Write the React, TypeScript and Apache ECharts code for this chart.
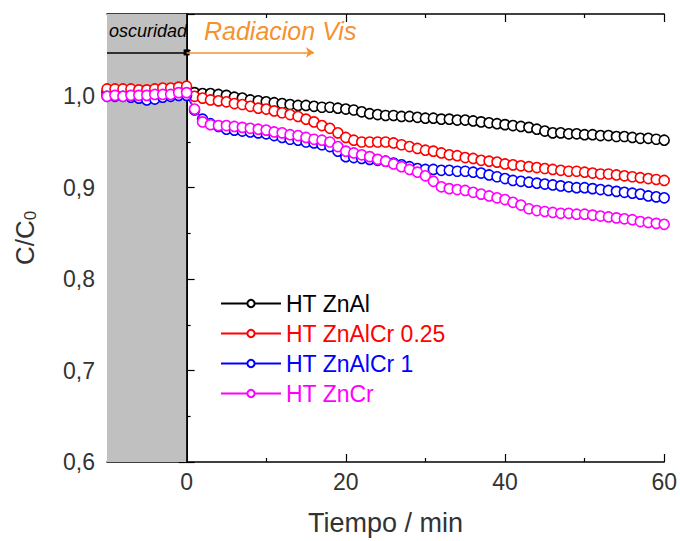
import React, { useEffect, useRef } from 'react';
import * as echarts from 'echarts';

const times = [
  -10, -9, -8, -7, -6, -5, -4, -3, -2, -1, 0,
  1, 2, 3, 4, 5, 6, 7, 8, 9, 10,
  11, 12, 13, 14, 15, 16, 17, 18, 19, 20,
  21, 22, 23, 24, 25, 26, 27, 28, 29, 30,
  31, 32, 33, 34, 35, 36, 37, 38, 39, 40,
  41, 42, 43, 44, 45, 46, 47, 48, 49, 50,
  51, 52, 53, 54, 55, 56, 57, 58, 59, 60,
];

const seriesNames = ['HT ZnAl', 'HT ZnAlCr 0.25', 'HT ZnAlCr 1', 'HT ZnCr'];
const seriesColors = ['#000000', '#ff0000', '#0000ff', '#ff00ff'];

const htZnAl = [
  1.004, 1.004, 1.004, 1.004, 1.003, 1.003, 1.004, 1.004, 1.004, 1.005, 1.005,
  1.004, 1.003, 1.003, 1.002, 1.001, 0.999, 0.998, 0.996, 0.995, 0.994,
  0.993, 0.992, 0.991, 0.990, 0.990, 0.989, 0.988, 0.988, 0.987, 0.986,
  0.985, 0.983, 0.981, 0.980, 0.979, 0.979, 0.978, 0.978, 0.977, 0.976,
  0.976, 0.975, 0.975, 0.974, 0.974, 0.973, 0.972, 0.971, 0.970, 0.969,
  0.968, 0.967, 0.966, 0.964, 0.962, 0.960, 0.960, 0.959, 0.959, 0.958,
  0.958, 0.957, 0.957, 0.956, 0.956, 0.955, 0.954, 0.954, 0.953, 0.952,
];

const htZnAlCr025 = [
  1.008, 1.008, 1.008, 1.008, 1.007, 1.007, 1.008, 1.009, 1.009, 1.010, 1.011,
  1.000, 0.998, 0.996, 0.995, 0.994, 0.992, 0.991, 0.989, 0.987, 0.986,
  0.984, 0.982, 0.980, 0.978, 0.975, 0.972, 0.968, 0.965, 0.960, 0.955,
  0.952, 0.950, 0.950, 0.950, 0.950, 0.949, 0.947, 0.945, 0.943, 0.941,
  0.940, 0.938, 0.936, 0.935, 0.933, 0.932, 0.930, 0.929, 0.928, 0.926,
  0.925, 0.924, 0.923, 0.922, 0.921, 0.920, 0.919, 0.918, 0.918, 0.917,
  0.916, 0.915, 0.915, 0.914, 0.913, 0.912, 0.911, 0.910, 0.909, 0.908,
];

const htZnAlCr1 = [
  1.000, 1.000, 1.000, 0.999, 0.998, 0.996, 0.997, 0.999, 1.000, 1.001, 1.001,
  0.985, 0.975, 0.970, 0.967, 0.964, 0.963, 0.962, 0.961, 0.960, 0.959,
  0.957, 0.955, 0.953, 0.952, 0.950, 0.949, 0.947, 0.945, 0.940, 0.934,
  0.933, 0.932, 0.931, 0.930, 0.929, 0.927, 0.925, 0.923, 0.921, 0.920,
  0.920, 0.919, 0.919, 0.918, 0.918, 0.917, 0.916, 0.914, 0.912, 0.910,
  0.908, 0.907, 0.906, 0.905, 0.904, 0.903, 0.902, 0.901, 0.900, 0.900,
  0.899, 0.898, 0.897, 0.896, 0.895, 0.894, 0.893, 0.891, 0.890, 0.889,
];

const htZnCr = [
  1.000, 1.001, 1.000, 1.001, 1.001, 1.001, 1.002, 1.002, 1.002, 1.004, 1.004,
  0.986, 0.972, 0.969, 0.968, 0.968, 0.967, 0.966, 0.965, 0.964, 0.963,
  0.961, 0.960, 0.958, 0.957, 0.955, 0.953, 0.952, 0.950, 0.945, 0.940,
  0.938, 0.936, 0.934, 0.931, 0.929, 0.926, 0.923, 0.920, 0.917, 0.913,
  0.907, 0.901, 0.899, 0.898, 0.897, 0.895, 0.893, 0.891, 0.889, 0.887,
  0.884, 0.881, 0.877, 0.875, 0.874, 0.873, 0.872, 0.872, 0.871, 0.871,
  0.870, 0.869, 0.868, 0.867, 0.866, 0.865, 0.863, 0.862, 0.861, 0.860,
];

const seriesValues = [htZnAl, htZnAlCr025, htZnAlCr1, htZnCr];

const xMajorTicks = [0, 20, 40, 60];
const xMinorTicks = [10, 30, 50];
const darkPhase = [-10, 0];
const lightArrowEnd = 16;
const bandLevel = 1.048;

const FONT = '"Liberation Sans", Arial, sans-serif';
const TXT = '#333333';

export default function App() {
  const ref = useRef<HTMLDivElement>(null);

  useEffect(() => {
    const chart = echarts.init(ref.current!, null, { renderer: 'svg' });

    const xBase = {
      type: 'value',
      min: -10,
      max: 60,
      splitLine: { show: false },
    };

    const dataSeries = seriesNames.map((name, i) => ({
      name,
      type: 'line',
      z: 5 + i,
      data: times.map((t, k) => [t, seriesValues[i][k]]),
      symbol: 'circle',
      symbolSize: 10,
      showSymbol: true,
      lineStyle: { color: seriesColors[i], width: 1.2 },
      itemStyle: { color: '#ffffff', borderColor: seriesColors[i], borderWidth: 1.6 },
    }));

    chart.setOption({
      animation: false,
      backgroundColor: '#ffffff',
      textStyle: { fontFamily: FONT },
      grid: { left: 107, right: 13, top: 14, bottom: 78 },
      legend: {
        orient: 'vertical',
        left: 215,
        top: 287,
        itemWidth: 60,
        itemHeight: 9,
        itemGap: 7,
        data: seriesNames.map((n, i) => ({
          name: n,
          textStyle: { color: seriesColors[i], fontSize: 23, fontFamily: FONT },
        })),
        textStyle: { fontSize: 23, fontFamily: FONT },
      },
      xAxis: [
        {
          ...xBase,
          position: 'bottom',
          name: 'Tiempo / min',
          nameLocation: 'middle',
          nameGap: 47,
          nameTextStyle: { fontSize: 27, color: TXT, fontFamily: FONT },
          axisLine: { show: true, lineStyle: { color: '#000', width: 1.5 } },
          axisTick: { show: true, inside: true, length: 8, customValues: xMajorTicks, lineStyle: { color: '#000', width: 1.2 } },
          axisLabel: { show: true, customValues: xMajorTicks, fontSize: 23, color: TXT, margin: 8, fontFamily: FONT },
        },
        {
          ...xBase,
          position: 'bottom',
          axisLine: { show: false },
          axisTick: { show: true, inside: true, length: 4, customValues: xMinorTicks, lineStyle: { color: '#000', width: 1.2 } },
          axisLabel: { show: false },
        },
        {
          ...xBase,
          position: 'top',
          axisLine: { show: true, lineStyle: { color: '#000', width: 1.5 } },
          axisTick: { show: true, inside: true, length: 8, customValues: xMajorTicks, lineStyle: { color: '#000', width: 1.2 } },
          axisLabel: { show: false },
        },
        {
          ...xBase,
          position: 'top',
          axisLine: { show: false },
          axisTick: { show: true, inside: true, length: 4, customValues: xMinorTicks, lineStyle: { color: '#000', width: 1.2 } },
          axisLabel: { show: false },
        },
      ],
      yAxis: [
        {
          type: 'value',
          position: 'left',
          min: 0.6,
          max: 1.09,
          interval: 0.1,
          name: '{a|C/C}{b|0}',
          nameLocation: 'middle',
          nameGap: 68,
          nameRotate: 90,
          nameTextStyle: {
            rich: {
              a: { fontSize: 26, color: TXT, fontFamily: FONT },
              b: { fontSize: 17, color: TXT, fontFamily: FONT, padding: [12, 0, 0, 0] },
            },
          },
          splitLine: { show: false },
          axisLine: { show: true, lineStyle: { color: '#000', width: 1.5 } },
          axisTick: { show: true, inside: true, length: 8, lineStyle: { color: '#000', width: 1.2 } },
          minorTick: { show: true, splitNumber: 2, length: 4, lineStyle: { color: '#000', width: 1.2 } },
          axisLabel: {
            fontSize: 23,
            color: TXT,
            margin: 12,
            fontFamily: FONT,
            formatter: (v: number) =>
              Math.abs(v * 10 - Math.round(v * 10)) < 1e-6 ? v.toFixed(1).replace('.', ',') : '',
          },
        },
        {
          type: 'value',
          position: 'right',
          min: 0.6,
          max: 1.09,
          interval: 0.1,
          splitLine: { show: false },
          axisLine: { show: true, lineStyle: { color: '#000', width: 1.5 } },
          axisTick: { show: true, inside: true, length: 8, lineStyle: { color: '#000', width: 1.2 } },
          minorTick: { show: true, splitNumber: 2, length: 4, lineStyle: { color: '#000', width: 1.2 } },
          axisLabel: { show: false },
        },
      ],
      graphic: [
        {
          type: 'text',
          left: 109,
          top: 22,
          z: 50,
          style: { text: 'oscuridad', font: 'italic 18px "Liberation Sans", Arial, sans-serif', fill: '#000' },
        },
        {
          type: 'text',
          left: 204,
          top: 18,
          z: 50,
          style: { text: 'Radiacion Vis', font: 'italic 25px "Liberation Sans", Arial, sans-serif', fill: '#f5922f' },
        },
      ],
      series: [
        {
          name: '__bg',
          type: 'line',
          z: 1,
          data: [],
          silent: true,
          markArea: {
            silent: true,
            itemStyle: { color: '#c0c0c0' },
            data: [[{ xAxis: darkPhase[0] }, { xAxis: darkPhase[1] }]],
          },
          markLine: {
            silent: true,
            symbol: 'none',
            label: { show: false },
            lineStyle: { color: '#000', width: 1.5, type: 'solid' },
            data: [
              { xAxis: darkPhase[1] },
              [
                { coord: [darkPhase[0], bandLevel], symbol: 'none' },
                { coord: [darkPhase[1], bandLevel], symbol: 'rect', symbolSize: 6 },
              ],
              [
                { coord: [darkPhase[1], bandLevel], symbol: 'none', lineStyle: { color: '#f5922f', width: 1.5 } },
                { coord: [lightArrowEnd, bandLevel], symbol: 'arrow', symbolSize: 8, lineStyle: { color: '#f5922f', width: 1.5 }, itemStyle: { color: '#f5922f' } },
              ],
            ],
          },
        },
        ...dataSeries,
      ],
    });

    return () => chart.dispose();
  }, []);

  return (
    <div
      ref={ref}
      style={{ position: 'fixed', left: 0, top: 0, width: 680, height: 541, background: '#fff' }}
    />
  );
}
